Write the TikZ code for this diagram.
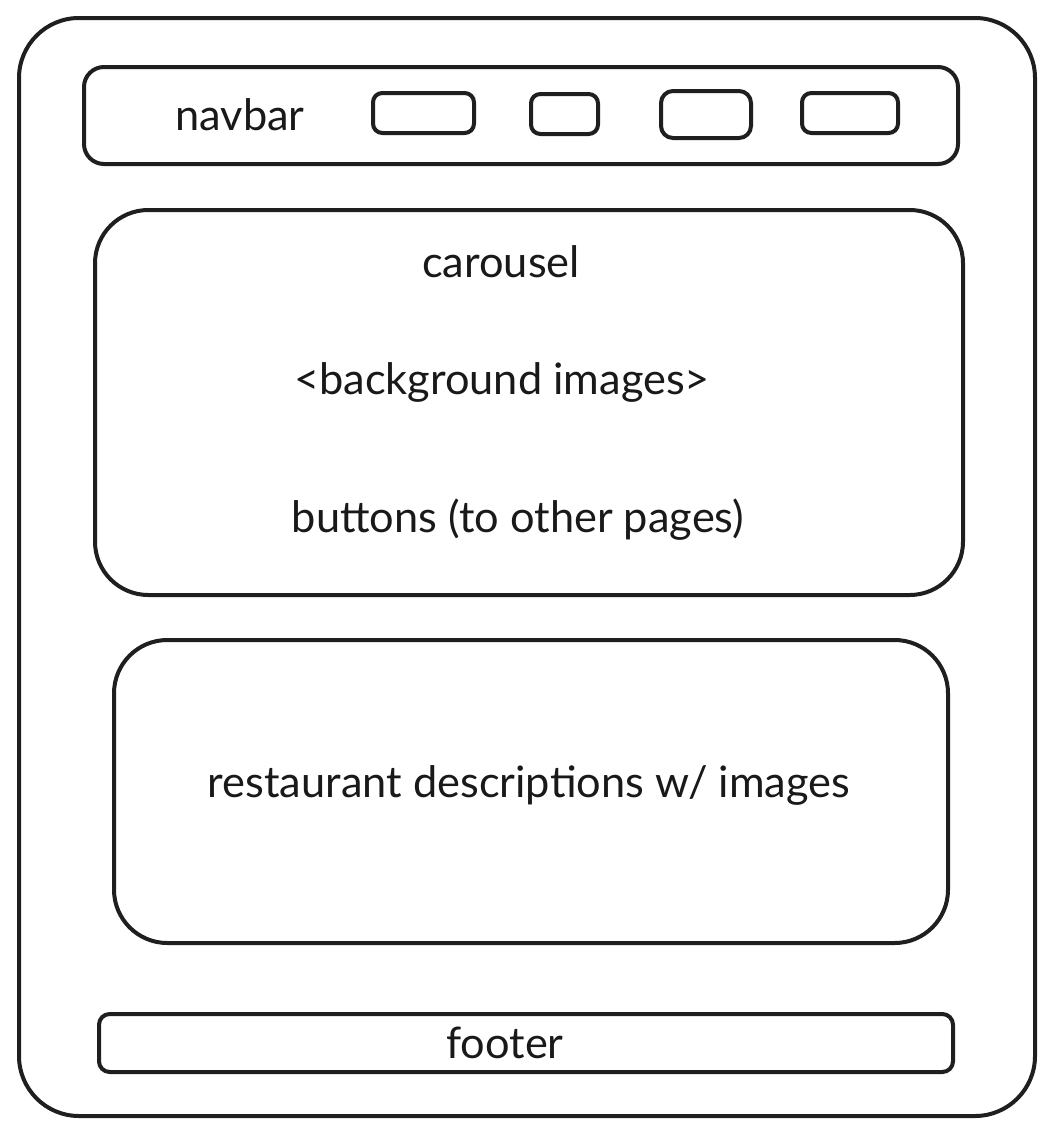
\documentclass[tikz,border=0pt]{standalone}
\usepackage{fontspec}
\setmainfont{Lato}
\begin{document}
\begin{tikzpicture}[x=0.75pt,y=-0.75pt,
  sketch/.style={draw=black!88,line width=3pt,line join=round,fill=white},
  label/.style={font=\fontsize{32.5}{38}\selectfont,text=black!90,inner sep=0pt,anchor=center}]
  \useasboundingbox (0,0) rectangle (1055,1135);
  % page frame
  \draw[sketch,rounded corners=45pt] (19,18) rectangle (1035,1116);
  % navigation bar with its four link buttons
  \draw[sketch,rounded corners=15pt] (84,67) rectangle (958,164);
  \node[label] (navbar) at (240,115) {navbar};
  \draw[sketch,rounded corners=7pt] (373,93) rectangle (474,133);
  \draw[sketch,rounded corners=7pt] (531,94) rectangle (598,134);
  \draw[sketch,rounded corners=9pt] (661,91) rectangle (751,138);
  \draw[sketch,rounded corners=7pt] (802,93) rectangle (898,133);
  % carousel section
  \draw[sketch,rounded corners=40pt] (95,210) rectangle (963,595);
  \node[label] (carousel) at (501,262) {carousel};
  \node[label] (bg) at (502,382) {<background images>};
  \node[label] (btns) at (518,520) {buttons (to other pages)};
  % restaurant section
  \draw[sketch,rounded corners=40pt] (114,640) rectangle (948,943);
  \node[label] (rest) at (529,785) {restaurant descriptions w/ images};
  % footer
  \draw[sketch,rounded corners=8pt] (99,1014) rectangle (953,1072);
  \node[label] (footer) at (505,1043) {footer};
\end{tikzpicture}
\end{document}
